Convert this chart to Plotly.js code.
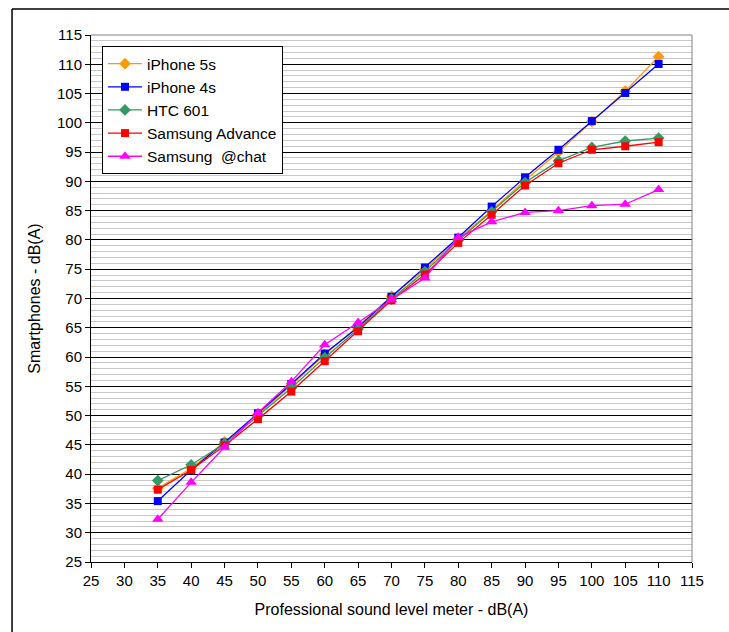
<!DOCTYPE html>
<html>
<head>
<meta charset="utf-8">
<script src="https://cdn.plot.ly/plotly-3.0.1.min.js"></script>
<style>
  html, body { margin: 0; padding: 0; background: #ffffff; }
  #chart { width: 729px; height: 632px; }
</style>
</head>
<body>
<div id="chart"></div>
<script>
// Professional sound level meter readings (x)
const meterLevels = [35, 40, 45, 50, 55, 60, 65, 70, 75, 80, 85, 90, 95, 100, 105, 110];

// Smartphone readings (y)
const iphone5s       = [37.6, 41.0, 45.5, 50.2, 55.2, 60.4, 65.3, 70.4, 75.0, 80.2, 85.0, 90.2, 95.0, 100.2, 105.4, 111.3];
const iphone4s       = [35.4, 40.7, 45.4, 50.4, 55.4, 60.6, 65.1, 70.3, 75.3, 80.4, 85.7, 90.7, 95.4, 100.3, 105.1, 110.05];
const htc601         = [38.9, 41.6, 45.2, 49.9, 54.7, 59.9, 64.8, 69.9, 74.6, 79.9, 84.8, 89.8, 93.5, 95.8, 96.9, 97.4];
const samsungAdvance = [37.35, 40.7, 44.9, 49.4, 54.1, 59.3, 64.4, 69.7, 74.1, 79.5, 84.3, 89.3, 93.1, 95.4, 96.0, 96.7];
const samsungChat    = [32.3, 38.6, 44.6, 50.5, 55.8, 62.1, 65.9, 69.8, 73.5, 80.45, 83.1, 84.7, 85.0, 85.85, 86.1, 88.6];

const seriesNames = ["iPhone 5s", "iPhone 4s", "HTC 601", "Samsung Advance", "Samsung\u00A0 @chat"];
const seriesData = [iphone5s, iphone4s, htc601, samsungAdvance, samsungChat];
const seriesColors = ["#FF9900", "#0000FF", "#339966", "#FF0000", "#FF00FF"];
const seriesSymbols = ["diamond", "square", "diamond", "square", "triangle-up"];
const seriesSizes = [9, 8, 9, 8, 10];

const axisTicks = [25, 30, 35, 40, 45, 50, 55, 60, 65, 70, 75, 80, 85, 90, 95, 100, 105, 110, 115];

const traces = seriesNames.map((name, i) => ({
  type: "scatter",
  mode: "lines+markers",
  name: name,
  x: meterLevels,
  y: seriesData[i],
  legendgroup: "g" + i,
  line: { color: seriesColors[i], width: 1.3 },
  marker: { color: seriesColors[i], symbol: seriesSymbols[i], size: seriesSizes[i], line: { width: 0 } }
}));

const font = "Arial, 'Liberation Sans', sans-serif";

const layout = {
  width: 729,
  height: 632,
  margin: { l: 91, r: 37, t: 35, b: 70 },
  paper_bgcolor: "#ffffff",
  plot_bgcolor: "#ffffff",
  font: { family: font, size: 14, color: "#000000" },
  showlegend: true,
  legend: {
    x: 0.0183, y: 0.979, xanchor: "left", yanchor: "top",
    bgcolor: "#ffffff", bordercolor: "#000000", borderwidth: 1,
    font: { family: font, size: 15.5, color: "#000000" },
    traceorder: "grouped", tracegroupgap: 0, itemwidth: 34
  },
  xaxis: {
    range: [25, 115],
    tickmode: "array",
    tickvals: axisTicks,
    ticktext: axisTicks.map(String),
    showgrid: false,
    zeroline: false,
    showline: true, linecolor: "#000000", linewidth: 1,
    ticks: "outside", ticklen: 5, tickcolor: "#000000",
    tickfont: { family: font, size: 15, color: "#000000" },
    title: { text: "Professional sound level meter - dB(A)", font: { family: font, size: 16, color: "#000000" }, standoff: 15 }
  },
  yaxis: {
    range: [25, 115],
    tickmode: "array",
    tickvals: axisTicks,
    ticktext: axisTicks.map(String),
    showgrid: true, gridcolor: "#000000", gridwidth: 1,
    minor: { dtick: 1, showgrid: true, gridcolor: "#c8c8c8", gridwidth: 1 },
    zeroline: false,
    showline: true, linecolor: "#000000", linewidth: 1,
    ticks: "outside", ticklen: 5, tickcolor: "#000000",
    tickfont: { family: font, size: 15, color: "#000000" },
    title: { text: "Smartphones - dB(A)", font: { family: font, size: 16, color: "#000000" }, standoff: 12 }
  },
  shapes: [
    // plot area border (top and right), gray
    { type: "line", xref: "paper", yref: "paper", x0: 0, x1: 1, y0: 1, y1: 1, line: { color: "#808080", width: 1 } },
    { type: "line", xref: "paper", yref: "paper", x0: 1, x1: 1, y0: 0, y1: 1, line: { color: "#808080", width: 1 } },
    // outer chart frame (top and left)
    { type: "line", xref: "paper", yref: "paper", x0: -0.1314, x1: 1.2, y0: 1.0493, y1: 1.0493, line: { color: "#000000", width: 1.5 } },
    { type: "line", xref: "paper", yref: "paper", x0: -0.1314, x1: -0.1314, y0: -0.2, y1: 1.0493, line: { color: "#000000", width: 1.5 } }
  ]
};

Plotly.newPlot("chart", traces, layout, { displayModeBar: false, staticPlot: true });
</script>
</body>
</html>
